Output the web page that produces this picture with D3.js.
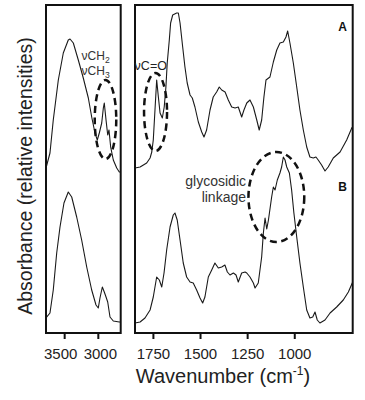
<!DOCTYPE html>
<html>
<head>
<meta charset="utf-8">
<script src="https://cdn.jsdelivr.net/npm/d3@7"></script>
<style>
  body { margin: 0; background: #fff; }
  svg { display: block; }
  text { font-family: Arial, "Liberation Sans", sans-serif; }
</style>
</head>
<body>
<div id="chart"></div>
<script>
//
// DATA  (wavenumber in cm-1, relative absorbance)
//

// 3800-2650 region
const highA = [
  [3770,1.65],[3711,1.80],[3662,2.13],[3587,2.53],[3513,2.80],[3439,2.93],[3413,2.94],
  [3364,2.90],[3290,2.73],[3216,2.55],[3141,2.35],[3091,2.16],[3042,2.00],[3008,1.93],
  [2978,2.00],[2942,2.10],[2918,2.25],[2904,2.30],[2878,2.13],[2853,1.98],[2834,2.03],
  [2809,1.86],[2770,1.73],[2719,1.65],[2681,1.61],[2660,1.61]
];
const highB = [
  [3770,0.15],[3711,0.20],[3662,0.43],[3611,0.80],[3562,1.06],[3503,1.30],[3439,1.41],
  [3388,1.36],[3314,1.16],[3240,0.93],[3165,0.66],[3091,0.43],[3027,0.28],[2993,0.25],
  [2968,0.35],[2933,0.46],[2904,0.41],[2878,0.36],[2853,0.31],[2819,0.16],[2770,0.12],
  [2681,0.11],[2660,0.11]
];

// 1850-690 region
const lowA = [
  [1845,1.65],[1818,1.66],[1783,1.70],[1765,1.75],[1756,1.81],[1748,1.93],[1739,2.23],
  [1730,2.53],[1721,2.36],[1712,2.20],[1700,2.15],[1690,2.26],[1681,2.46],[1674,2.70],
  [1663,2.93],[1656,3.10],[1645,3.18],[1624,3.20],[1615,3.20],[1606,3.10],[1592,2.86],
  [1580,2.66],[1568,2.50],[1553,2.38],[1541,2.35],[1527,2.26],[1509,2.11],[1491,2.01],
  [1479,1.96],[1465,2.03],[1447,2.23],[1430,2.36],[1412,2.41],[1398,2.46],[1385,2.43],
  [1367,2.41],[1350,2.33],[1332,2.26],[1314,2.25],[1297,2.26],[1279,2.16],[1267,2.23],
  [1252,2.30],[1235,2.33],[1217,2.26],[1199,2.13],[1186,2.03],[1173,2.13],[1161,2.36],
  [1150,2.53],[1129,2.56],[1111,2.71],[1093,2.83],[1076,2.90],[1058,2.91],[1044,2.96],
  [1035,3.02],[1023,2.90],[1005,2.70],[987,2.46],[970,2.23],[952,2.03],[934,1.86],
  [917,1.76],[899,1.75],[885,1.76],[873,1.73],[855,1.68],[837,1.62],[820,1.66],
  [793,1.75],[757,1.81],[722,1.93],[695,2.05],[690,2.06]
];
const lowB = [
  [1845,0.10],[1818,0.11],[1792,0.15],[1765,0.23],[1748,0.36],[1739,0.46],[1730,0.56],
  [1716,0.53],[1703,0.46],[1691,0.60],[1677,0.83],[1659,1.06],[1642,1.18],[1633,1.20],
  [1621,1.13],[1606,0.93],[1589,0.70],[1571,0.56],[1553,0.51],[1536,0.50],[1518,0.43],
  [1500,0.35],[1486,0.30],[1474,0.36],[1456,0.56],[1438,0.63],[1421,0.70],[1403,0.65],
  [1385,0.66],[1368,0.68],[1355,0.61],[1341,0.58],[1323,0.60],[1309,0.58],[1297,0.51],
  [1279,0.60],[1261,0.61],[1252,0.60],[1235,0.56],[1217,0.50],[1208,0.45],[1191,0.50],
  [1173,0.76],[1164,1.00],[1155,1.15],[1146,1.04],[1137,1.13],[1120,1.36],[1111,1.46],
  [1102,1.43],[1090,1.53],[1076,1.60],[1067,1.66],[1058,1.76],[1049,1.73],[1040,1.66],
  [1026,1.60],[1014,1.43],[1002,1.20],[987,0.96],[970,0.70],[952,0.46],[934,0.23],
  [917,0.15],[902,0.16],[890,0.21],[878,0.13],[864,0.10],[837,0.13],[810,0.20],
  [775,0.26],[740,0.33],[713,0.41],[690,0.51]
];

const highTicks = [3500, 3000];
const lowTicks = [1750, 1500, 1250, 1000];

// dashed ellipses: centre and half-widths in data units
const highEllipses = [{wn: 2886, abs: 2.135, dwn: 160, dabs: 0.395}];
const lowEllipses = [
  {wn: 1736, abs: 2.21, dwn: 61, dabs: 0.39},
  {wn: 1095, abs: 1.36, dwn: 148, dabs: 0.45}
];

//
// CHART
//

const width = 365;
const height = 400;

const svg = d3.select('#chart')
  .append('svg')
    .attr('width', width)
    .attr('height', height);

const y = d3.scaleLinear()
  .domain([0, 3.28])
  .range([333, 5]);

const xHigh = d3.scaleLinear()
  .domain([3770, 2660])
  .range([46, 120.7]);
const xLow = d3.scaleLinear()
  .domain([1845, 690])
  .range([135, 352.7]);

function panel(x, ticks, series, ellipses, id, labelShift) {
  const [x0, x1] = x.range();
  const [y0, y1] = [y.range()[1], y.range()[0]];

  svg.append('clipPath')
    .attr('id', id)
    .append('rect')
      .attr('x', x0).attr('y', y0)
      .attr('width', x1 - x0).attr('height', y1 - y0);

  const line = d3.line()
    .x(d => x(d[0]))
    .y(d => y(d[1]));

  const g = svg.append('g').attr('clip-path', `url(#${id})`);
  series.forEach(s => {
    g.append('path')
      .datum(s)
        .attr('fill', 'none')
        .attr('stroke', '#1a1a1a')
        .attr('stroke-width', 1.1)
        .attr('stroke-linejoin', 'round')
        .attr('d', line);
  });

  ellipses.forEach(e => {
    svg.append('ellipse')
      .attr('cx', x(e.wn))
      .attr('cy', y(e.abs))
      .attr('rx', Math.abs(x(e.wn + e.dwn) - x(e.wn)))
      .attr('ry', Math.abs(y(e.abs + e.dabs) - y(e.abs)))
      .attr('fill', 'none')
      .attr('stroke', '#111')
      .attr('stroke-width', 2.5)
      .attr('stroke-dasharray', '7,4.5');
  });

  // frame
  svg.append('rect')
    .attr('x', x0).attr('y', y0)
    .attr('width', x1 - x0).attr('height', y1 - y0)
    .attr('fill', 'none')
    .attr('stroke', '#111')
    .attr('stroke-width', 2);

  // axis
  svg.append('g')
    .attr('transform', `translate(0,${y1})`)
    .call(d3.axisBottom(x)
      .tickValues(ticks)
      .tickSize(6)
      .tickPadding(9)
      .tickFormat(d3.format('d')))
    .call(g => g.select('.domain').remove())
    .call(g => g.selectAll('.tick line')
      .attr('stroke', '#111')
      .attr('stroke-width', 2))
    .call(g => g.selectAll('.tick text')
      .attr('fill', '#222')
      .attr('dx', (d, i) => labelShift[i] || 0)
      .style('font-size', '15px')
      .style('font-family', 'Arial, "Liberation Sans", sans-serif'));
}

// the two high-wavenumber labels sit slightly apart from their ticks
panel(xHigh, highTicks, [highA, highB], highEllipses, 'clip-high', [-4, 2]);
panel(xLow, lowTicks, [lowA, lowB], lowEllipses, 'clip-low', []);

// annotations
function label(x, wn, abs, parts, opts) {
  const t = svg.append('text')
    .attr('x', x(wn))
    .attr('y', y(abs))
    .attr('fill', opts.fill || '#333')
    .attr('text-anchor', opts.anchor || 'start')
    .style('font-size', opts.size + 'px')
    .style('font-weight', opts.weight || 'normal');
  parts.forEach(p => {
    const s = t.append('tspan').text(p.text);
    if (p.sub) {
      s.style('font-size', (opts.size * 0.72) + 'px').attr('dy', 3);
    }
  });
  return t;
}

label(xHigh, 3242, 2.73, [{text: 'νCH'}, {text: '2', sub: true}], {size: 12});
label(xHigh, 3242, 2.585, [{text: 'νCH'}, {text: '3', sub: true}], {size: 12});
label(xLow, 1847, 2.63, [{text: 'νC=O'}], {size: 12.5, fill: '#222'});
label(xLow, 1256, 1.47, [{text: 'glycosidic'}], {size: 14, anchor: 'end'});
label(xLow, 1256, 1.31, [{text: 'linkage'}], {size: 14, anchor: 'end'});
label(xLow, 720, 3.02, [{text: 'A'}], {size: 12, anchor: 'end', weight: 'bold', fill: '#111'});
label(xLow, 720, 1.42, [{text: 'B'}], {size: 12, anchor: 'end', weight: 'bold', fill: '#111'});

// axis titles
const xt = svg.append('text')
  .attr('x', 223)
  .attr('y', 383)
  .attr('text-anchor', 'middle')
  .attr('fill', '#222')
  .style('font-size', '20px');
xt.append('tspan').text('Wavenumber (cm');
xt.append('tspan').text('-1').style('font-size', '12px').attr('dy', -8);
xt.append('tspan').text(')').attr('dy', 8);

svg.append('text')
  .attr('transform', 'translate(32,176) rotate(-90)')
  .attr('text-anchor', 'middle')
  .attr('fill', '#222')
  .style('font-size', '19.5px')
  .text('Absorbance (relative intensities)');
</script>
</body>
</html>
